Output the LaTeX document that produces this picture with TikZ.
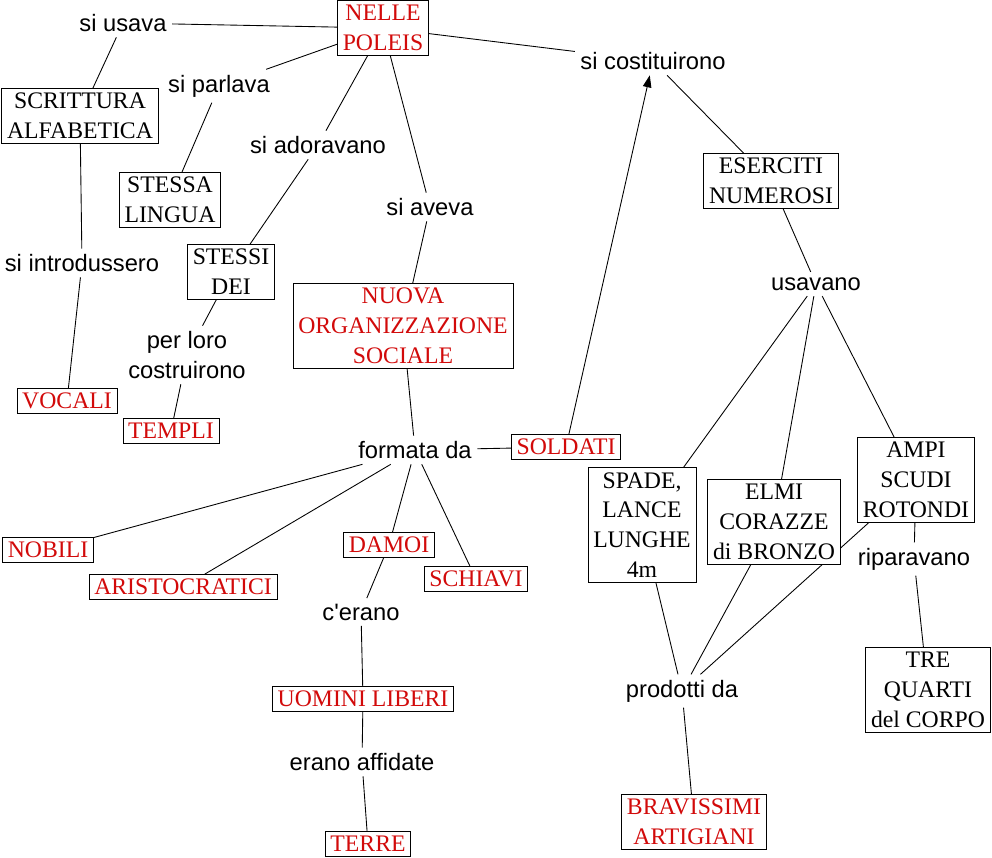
\documentclass[tikz,border=0pt]{standalone}
\usepackage{fontspec}
\setmainfont{Liberation Serif}
\setsansfont{Liberation Sans}
\usetikzlibrary{arrows.meta,backgrounds}
\definecolor{conceptred}{RGB}{210,10,10}

\begin{document}
\begin{tikzpicture}[
    x=0.02cm, y=-0.02cm,
    box/.style={draw, fill=white, align=center, inner xsep=3pt, inner ysep=2.6pt, font=\fontsize{13.5}{17}\selectfont},
    key/.style={box, text=conceptred},
    link/.style={align=center, inner sep=3pt, font=\sffamily\fontsize{13.5}{17}\selectfont},
    line/.style={line width=0.5pt},
    arrow/.style={-{Triangle[length=2.4mm, width=1.7mm]}, line width=0.5pt}
]
\useasboundingbox (0,0) rectangle (992,858);
% concepts
\node[key] (poleis) at (383,28) {NELLE\\POLEIS};
\node[box] (scrittura) at (80,116) {SCRITTURA\\ALFABETICA};
\node[box] (lingua) at (170,200) {STESSA\\LINGUA};
\node[box] (dei) at (231,272) {STESSI\\DEI};
\node[key] (nuova) at (403,326) {NUOVA\\ORGANIZZAZIONE\\SOCIALE};
\node[key] (vocali) at (67,401) {VOCALI};
\node[key] (templi) at (171,431) {TEMPLI};
\node[key] (soldati) at (566,447) {SOLDATI};
\node[box] (eserciti) at (771,181) {ESERCITI\\NUMEROSI};
\node[box] (spade) at (642,525) {SPADE,\\LANCE\\LUNGHE\\4m};
\node[box] (elmi) at (774,522) {ELMI\\CORAZZE\\di BRONZO};
\node[box] (scudi) at (916,480) {AMPI\\SCUDI\\ROTONDI};
\node[box] (corpo) at (928,690) {TRE\\QUARTI\\del CORPO};
\node[key] (nobili) at (48,550) {NOBILI};
\node[key] (aristo) at (183,587) {ARISTOCRATICI};
\node[key] (damoi) at (389,545) {DAMOI};
\node[key] (schiavi) at (476,579) {SCHIAVI};
\node[key] (liberi) at (363,699) {UOMINI LIBERI};
\node[key] (terre) at (368,844) {TERRE};
\node[key] (artigiani) at (694,822) {BRAVISSIMI\\ARTIGIANI};
% linking words
\node[link] (usava) at (123,23) {si usava};
\node[link] (parlava) at (219,86) {si parlava};
\node[link] (adoravano) at (318,145) {si adoravano};
\node[link] (aveva) at (430,207) {si aveva};
\node[link] (introdussero) at (82,263) {si introdussero};
\node[link] (costruirono) at (187,355) {per loro\\costruirono};
\node[link] (costituirono) at (653,61) {si costituirono};
\node[link] (usavano) at (816,284) {usavano};
\node[link] (formata) at (415,450) {formata da};
\node[link] (cerano) at (361,612) {c\textquotesingle erano};
\node[link] (affidate) at (362,762) {erano affidate};
\node[link] (prodotti) at (682,691) {prodotti da};
\node[link] (riparavano) at (914,559) {riparavano};
% connectors
\begin{scope}[on background layer]
\draw[line] (poleis) -- (usava);
\draw[line] (usava) -- (scrittura);
\draw[line] (scrittura) -- (introdussero);
\draw[line] (introdussero) -- (vocali);
\draw[line] (poleis) -- (parlava);
\draw[line] (parlava) -- (lingua);
\draw[line] (poleis) -- (adoravano);
\draw[line] (adoravano) -- (dei);
\draw[line] (dei) -- (costruirono);
\draw[line] (costruirono) -- (templi);
\draw[line] (poleis) -- (aveva);
\draw[line] (aveva) -- (nuova);
\draw[line] (poleis) -- (costituirono);
\draw[arrow] (soldati) -- (costituirono);
\draw[line] (costituirono) -- (eserciti);
\draw[line] (eserciti) -- (usavano);
\draw[line] (usavano) -- (spade);
\draw[line] (usavano) -- (elmi);
\draw[line] (usavano) -- (scudi);
\draw[line] (scudi) -- (riparavano);
\draw[line] (riparavano) -- (corpo);
\draw[line] (spade) -- (prodotti);
\draw[line] (elmi) -- (prodotti);
\draw[line] (scudi) -- (prodotti);
\draw[line] (prodotti) -- (artigiani);
\draw[line] (nuova) -- (formata);
\draw[line] (formata) -- (soldati);
\draw[line] (formata) -- (nobili);
\draw[line] (formata) -- (aristo);
\draw[line] (formata) -- (damoi);
\draw[line] (formata) -- (schiavi);
\draw[line] (damoi) -- (cerano);
\draw[line] (cerano) -- (liberi);
\draw[line] (liberi) -- (affidate);
\draw[line] (affidate) -- (terre);
\end{scope}
\end{tikzpicture}
\end{document}
